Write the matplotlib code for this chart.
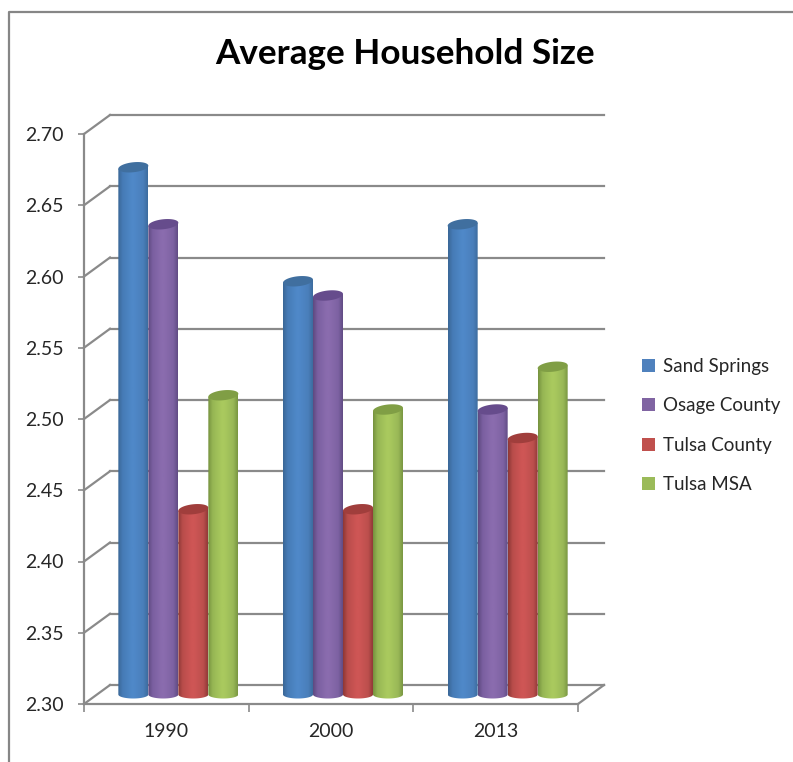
import numpy as np
import matplotlib
matplotlib.use("Agg")
import matplotlib.pyplot as plt
from matplotlib.colors import LinearSegmentedColormap
from matplotlib.lines import Line2D
from matplotlib.patches import Polygon, Rectangle
from matplotlib.transforms import Affine2D

years = ["1990", "2000", "2013"]
series_names = ["Sand Springs", "Osage County", "Tulsa County", "Tulsa MSA"]
sand_springs = [2.67, 2.59, 2.63]
osage_county = [2.63, 2.58, 2.50]
tulsa_county = [2.43, 2.43, 2.48]
tulsa_msa = [2.51, 2.50, 2.53]
y_ticks = [2.30, 2.35, 2.40, 2.45, 2.50, 2.55, 2.60, 2.65, 2.70]
face_colors = ["#4F81BD", "#8064A2", "#C0504D", "#9BBB59"]
gradients = [
    ["#3A6797", "#467BB6", "#4F88C8", "#4F88C8", "#4A7FBA", "#3D6C9F"],
    ["#5F4A80", "#7A5FA0", "#8A6CAE", "#8A6CAE", "#7D62A2", "#624C85"],
    ["#8E3836", "#B94D4B", "#CE5655", "#CE5655", "#BC4F4D", "#923A38"],
    ["#76923F", "#96B654", "#A9C95E", "#A9C95E", "#99B857", "#7A9742"],
]
top_colors = ["#406F9F", "#664C8C", "#A03E3C", "#809E45"]
GRID = "#8A8A8A"
TXT = "#262626"
FONT = "Lato"

W, H = 793, 762
fig = plt.figure(figsize=(W / 100, H / 100), dpi=100, facecolor="white")
L, R, T, B = 84, 578, 134, 704
ax = fig.add_axes([L / W, 1 - B / H, (R - L) / W, (B - T) / H])
ax.patch.set_alpha(0)
ax.set_xlim(-0.5, 2.5)
ax.set_ylim(2.30, 2.70)

px_x = (R - L) / 3
px_y = (B - T) / 0.40

# depth of the 3-D box and of the bar row, in display pixels
wall = ax.transData + Affine2D().translate(26, 19)
bars = ax.transData + Affine2D().translate(12, 9.5)

for v in y_ticks:
    ax.plot([-0.5, 2.5], [v, v], color=GRID, lw=1.6, transform=wall, clip_on=False, zorder=1)
    a = ax.transData.transform((-0.5, v))
    b = wall.transform((-0.5, v))
    ax.add_line(Line2D([a[0], b[0]], [a[1], b[1]], color=GRID, lw=1.6,
                       transform=None, clip_on=False, zorder=1))
a = ax.transData.transform((2.5, 2.30))
b = wall.transform((2.5, 2.30))
ax.add_line(Line2D([a[0], b[0]], [a[1], b[1]], color=GRID, lw=1.6,
                   transform=None, clip_on=False, zorder=1))

all_values = [sand_springs, osage_county, tulsa_county, tulsa_msa]
bar_w = 30 / px_x
ell_h = 5 / px_y
base_h = 4 / px_y
tilt = 1.5 / px_y
t = np.linspace(0, np.pi, 40)
full = np.linspace(0, 2 * np.pi, 80)
for j, (vals, grad, top) in enumerate(zip(all_values, gradients, top_colors)):
    cmap = LinearSegmentedColormap.from_list(
        f"c{j}", list(zip([0, 0.15, 0.45, 0.55, 0.85, 1], grad)))
    for i, v in enumerate(vals):
        cx = i + (j - 1.5) * bar_w
        hw = bar_w / 2
        xs = np.concatenate([[cx - hw], cx - hw * np.cos(t), [cx + hw]])
        ys = np.concatenate([[v - tilt], 2.30 - base_h * np.sin(t), [v + tilt]])
        poly = Polygon(np.column_stack([xs, ys]), closed=True, transform=bars,
                       facecolor="none", edgecolor="none")
        ax.add_patch(poly)
        z = 3 + j * 0.1
        im = ax.imshow(np.linspace(0, 1, 64)[None, :], cmap=cmap, aspect="auto",
                       extent=[cx - hw, cx + hw, 2.30 - 2 * base_h, v + tilt],
                       transform=bars, zorder=z, clip_on=True)
        im.set_clip_path(poly)
        ex = cx + hw * np.cos(full)
        ey = v + ell_h * np.sin(full) + tilt * np.cos(full)
        ax.add_patch(Polygon(np.column_stack([ex, ey]), closed=True, transform=bars,
                             facecolor=top, edgecolor="none", zorder=z + 0.01, clip_on=False))
ax.set_xlim(-0.5, 2.5)
ax.set_ylim(2.30, 2.70)

for s in ("top", "right"):
    ax.spines[s].set_visible(False)
for s in ("left", "bottom"):
    ax.spines[s].set_color(GRID)
    ax.spines[s].set_linewidth(1.6)
    ax.spines[s].set_zorder(2)

ax.set_yticks(y_ticks)
ax.set_yticklabels([f"{v:.2f}" for v in y_ticks], fontfamily=FONT, fontsize=14, color=TXT)
ax.tick_params(axis="y", length=4.5, width=1.2, color=GRID, pad=10)
ax.set_xticks([-0.5, 0.5, 1.5, 2.5])
ax.set_xticklabels([])
ax.tick_params(axis="x", which="major", length=5.5, width=1.2, color=GRID)
ax.set_xticks([0, 1, 2], minor=True)
ax.set_xticklabels(years, minor=True, fontfamily=FONT, fontsize=14, color=TXT)
ax.tick_params(axis="x", which="minor", length=0, pad=14)

fig.text(405 / W, 1 - 54 / H, "Average Household Size", ha="center", va="center",
         fontfamily=FONT, fontweight="bold", fontsize=25.3, color="black")

handles = [Rectangle((0, 0), 1, 1, facecolor=c, edgecolor="none") for c in face_colors]
leg = fig.legend(handles, series_names, loc="center left",
                 bbox_to_anchor=(636.5 / W, 1 - 425.5 / H), frameon=False,
                 prop={"family": FONT, "size": 13.5}, labelcolor=TXT,
                 handlelength=0.68, handleheight=0.68, handletextpad=0.42,
                 labelspacing=1.2, borderpad=0.3, borderaxespad=0)

# outer frame fragment of the screenshot
fig.add_artist(Line2D([8.5 / W, 8.5 / W, 1], [0, 1 - 11.5 / H, 1 - 11.5 / H],
                      color="#868686", lw=1.6, transform=fig.transFigure))

fig.savefig("out.png", dpi=100, facecolor="white")
